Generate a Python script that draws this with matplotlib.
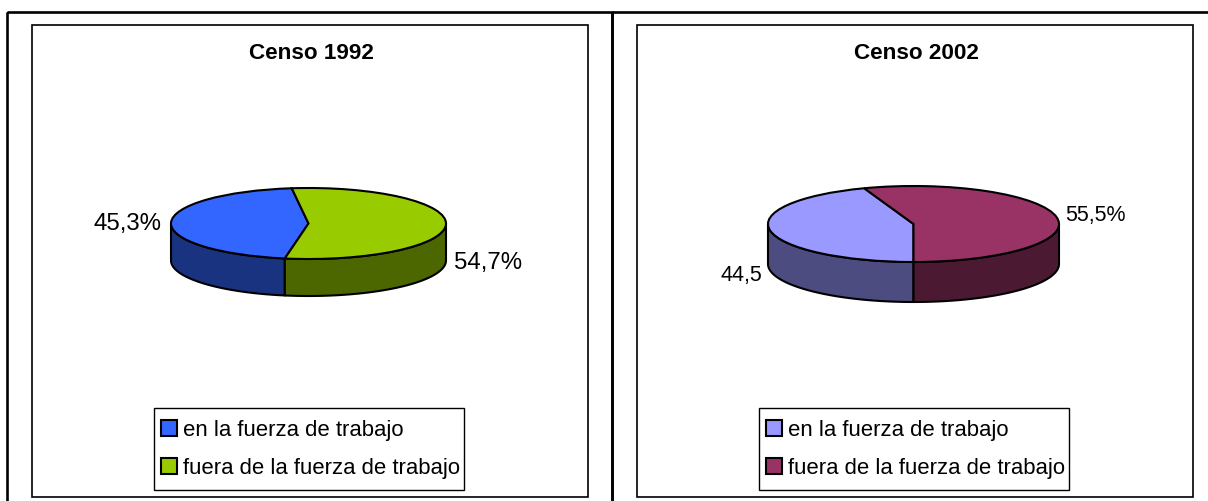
import numpy as np
import matplotlib
matplotlib.use("Agg")
import matplotlib.pyplot as plt
from matplotlib.patches import Rectangle

plt.rcParams['font.family'] = ['Liberation Sans', 'DejaVu Sans']

W, H = 1208, 502
categories = ['en la fuerza de trabajo', 'fuera de la fuerza de trabajo']
titles = ['Censo 1992', 'Censo 2002']
values_1992 = [45.3, 54.7]
values_2002 = [44.5, 55.5]
labels_1992 = ['45,3%', '54,7%']
labels_2002 = ['44,5', '55,5%']
top_colors_1992 = ['#3366FF', '#99CC00']
side_colors_1992 = ['#1A3380', '#4C6600']
top_colors_2002 = ['#9999FF', '#993366']
side_colors_2002 = ['#4C4C80', '#4C1933']

fig = plt.figure(figsize=(W / 100, H / 100), dpi=100)
bg = fig.add_axes([0, 0, 1, 1])
bg.set_xlim(0, W)
bg.set_ylim(H, 0)
bg.axis('off')

# table frame and panel boxes (pixel coordinates)
for (x0, y0, x1, y1, lw) in [(7, 12.5, 612, 520, 1.9), (612, 12.5, 1240, 520, 1.9),
                             (32, 26, 588, 498, 1.2), (637, 26, 1193, 498, 1.2)]:
    bg.add_patch(Rectangle((x0, y0), x1 - x0, y1 - y0, fill=False, ec='black', lw=lw, clip_on=False))


def draw_pie(values, tops, sides, start, cx, cy, rx, ry, depth, labels, label_xy, label_fs,
             title, title_x, legend_box):
    pad = 8
    x0, x1 = cx - rx - pad, cx + rx + pad
    y0, y1 = cy - ry - pad, cy + ry + depth + pad
    ax = fig.add_axes([x0 / W, 1 - y1 / H, (x1 - x0) / W, (y1 - y0) / H])
    wedges, _ = ax.pie(values, colors=tops, startangle=start, counterclock=True,
                       wedgeprops=dict(edgecolor='black', linewidth=1.5, zorder=3))
    ax.set_aspect('auto')
    ax.set_xlim((x0 - cx) / rx, (x1 - cx) / rx)
    ax.set_ylim(-(y1 - cy) / ry, (cy - y0) / ry)
    d = depth / ry

    # front wall of the disc: the part of each slice lying in the lower half
    a = start
    for v, side in zip(values, sides):
        b = a + v / sum(values) * 360
        for lo, hi in [(180, 360), (540, 720)]:
            s, e = max(a, lo), min(b, hi)
            if e > s:
                th = np.radians(np.linspace(s, e, 120))
                xs = np.cos(th)
                ys = np.sin(th)
                ax.fill(np.r_[xs, xs[::-1]], np.r_[ys, ys[::-1] - d],
                        fc=side, ec='black', lw=1.5, zorder=2, joinstyle='round')
        a = b

    for text, (lx, ly), fs in zip(labels, label_xy, label_fs):
        bg.text(lx, ly, text, fontsize=fs, ha='center', va='center', color='black')
    bg.text(title_x, 53.5, title, fontsize=16.2, fontweight='bold', ha='center', va='center', color='black')

    lx0, ly0, lx1, ly1 = legend_box
    bg.add_patch(Rectangle((lx0, ly0), lx1 - lx0, ly1 - ly0, fc='white', ec='black', lw=1.0, zorder=1))
    leg = bg.legend(wedges, categories, loc='upper left', bbox_to_anchor=(lx0 + 7, ly0 + 11.5),
                    bbox_transform=bg.transData, frameon=False, fontsize=15.9,
                    handlelength=0.74, handleheight=0.74, handletextpad=0.25,
                    labelspacing=0.76, borderpad=0, borderaxespad=0)
    leg.set_zorder(2)
    bg.add_artist(leg)
    bg.legend_ = None


draw_pie(values_1992, top_colors_1992, side_colors_1992, 97, 308.5, 224.5, 137.5, 35.5, 37,
         labels_1992, [(127.5, 224), (488, 263)], [17.3, 17.3], titles[0], 311, (154, 409, 464, 491))
draw_pie(values_2002, top_colors_2002, side_colors_2002, 109.8, 913.5, 225, 145.5, 38, 40,
         labels_2002, [(741, 276), (1095, 216)], [15.5, 15.5], titles[1], 916, (759, 409, 1069, 491))

fig.savefig('out.png', dpi=100)
